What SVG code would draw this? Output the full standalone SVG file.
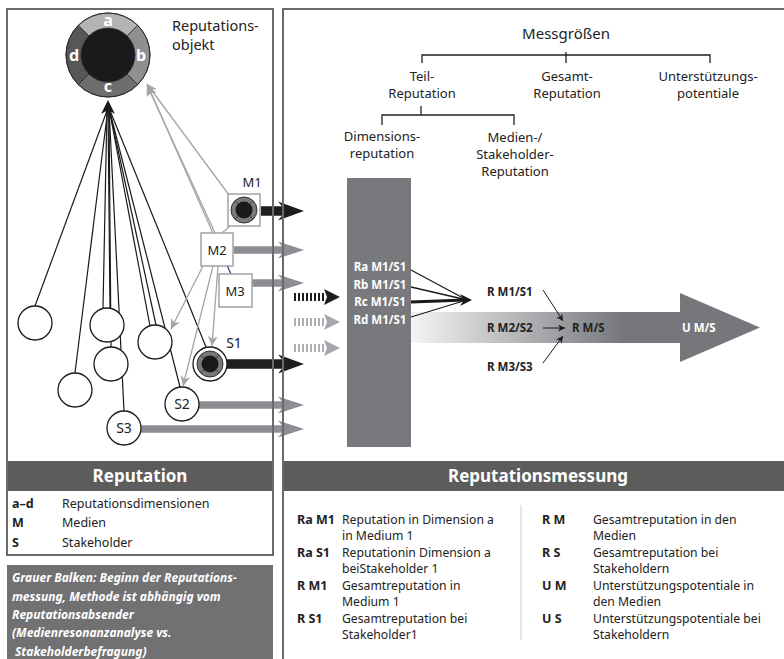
<svg xmlns="http://www.w3.org/2000/svg" width="784" height="659" viewBox="0 0 784 659">
<defs>
<style>
text{font-family:"Noto Sans","Open Sans",sans-serif;}
.lbl{font-size:13px;fill:#222;text-anchor:middle;}
.lg{font-size:12.5px;fill:#222;}
.lr{font-size:12.2px;fill:#222;}
.key{font-size:12.5px;font-weight:bold;fill:#222;}
.hdr{font-size:17px;font-weight:bold;fill:#fff;text-anchor:middle;}
.bar{font-size:11.5px;font-weight:bold;fill:#fff;text-anchor:middle;}
.rl{font-size:11.5px;font-weight:bold;fill:#222;}
.ring{font-size:16px;font-weight:bold;fill:#fff;text-anchor:middle;}
.blk{stroke:#1a1a1a;stroke-width:1.2;fill:none;}
.gl{stroke:#a3a5aa;stroke-width:1.3;fill:none;marker-end:url(#ga);}
.circ{fill:#fff;stroke:#1a1a1a;stroke-width:1.3;}
.box{fill:#fff;stroke:#a0a2a6;stroke-width:1.5;}
.garr{fill:#8c8e93;}
.barr{fill:#1e1e1e;}
.tree{stroke:#222;stroke-width:1.3;fill:none;}
.it{font-size:12px;font-weight:bold;font-style:italic;fill:#fff;}
.frame{stroke:#6a6a6a;stroke-width:2;fill:none;}
.seg{stroke:#2a2a2a;stroke-width:0.8;}
.thin{stroke:#1a1a1a;stroke-width:1;fill:none;marker-end:url(#ka);}
</style>
<marker id="ga" viewBox="0 0 10 10" refX="10" refY="5" markerWidth="10" markerHeight="10" markerUnits="userSpaceOnUse" orient="auto">
<path d="M0,0 L10,5 L0,10 L3,5 z" fill="#a3a5aa"/>
</marker>
<marker id="ka" viewBox="0 0 10 10" refX="10" refY="5" markerWidth="7" markerHeight="7" markerUnits="userSpaceOnUse" orient="auto">
<path d="M0,0 L10,5 L0,10 L3,5 z" fill="#1a1a1a"/>
</marker>
<linearGradient id="grad" x1="411" y1="0" x2="625" y2="0" gradientUnits="userSpaceOnUse">
<stop offset="0" stop-color="#f4f4f5"/>
<stop offset="1" stop-color="#76777b"/>
</linearGradient>
<g id="mini">
<circle r="13" fill="#7a7a7a" stroke="#333" stroke-width="1"/>
<path d="M-9.2,-9.2 L-6,-6 M9.2,-9.2 L6,-6 M9.2,9.2 L6,6 M-9.2,9.2 L-6,6" stroke="#333" stroke-width="0.8"/>
<circle r="8.5" fill="#1a1a1a"/>
</g>
</defs>

<rect width="784" height="659" fill="#fff"/>

<rect x="7" y="461" width="266" height="30" fill="#5c5c5c"/>
<rect x="283" y="461" width="501" height="30" fill="#5c5c5c"/>
<rect x="7" y="565" width="266" height="94" fill="#717173"/>

<g id="connectors">
<line class="blk" x1="35" y1="306" x2="108" y2="108"/>
<line class="blk" x1="75" y1="373" x2="108" y2="108"/>
<line class="blk" x1="103" y1="308" x2="107" y2="108"/>
<line class="blk" x1="110" y1="308" x2="108" y2="108"/>
<line class="blk" x1="111" y1="347" x2="109" y2="108"/>
<line class="blk" x1="124" y1="411" x2="109" y2="108"/>
<line class="blk" x1="150" y1="326" x2="109" y2="108"/>
<line class="blk" x1="156" y1="325" x2="109" y2="108"/>
<line class="blk" x1="180" y1="387" x2="109" y2="108"/>
<line class="blk" x1="206" y1="347" x2="109" y2="108"/>
<polygon points="108,100 101,114 108,110 115,114" fill="#1a1a1a"/>
<line class="gl" x1="229" y1="195" x2="147" y2="84"/>
<line class="gl" x1="215" y1="233" x2="147" y2="85"/>
<line class="gl" x1="231" y1="274" x2="148" y2="86"/>
<line x1="230" y1="226" x2="222" y2="233" stroke="#a3a5aa" stroke-width="1.3"/>
<line class="gl" x1="203" y1="266" x2="171" y2="329"/>
<line class="gl" x1="213" y1="266" x2="183" y2="386"/>
<line class="gl" x1="218" y1="266" x2="212" y2="346"/>
<polygon class="barr" points="261,206.3 282,206.3 278,201.5 304,211 278,220.5 282,215.7 261,215.7"/>
<polygon class="garr" points="234,246.2 282,246.2 278,241.5 304,250 278,258.5 282,253.8 234,253.8"/>
<polygon class="garr" points="252,279.2 282,279.2 278,274.5 304,283 278,291.5 282,286.8 252,286.8"/>
<polygon class="barr" points="226,359.3 282,359.3 278,354.5 304,364 278,373.5 282,368.7 226,368.7"/>
<polygon class="garr" points="199,401.2 282,401.2 278,396.5 304,405 278,413.5 282,408.8 199,408.8"/>
<polygon class="garr" points="141,425.2 282,425.2 278,420.5 304,429 278,437.5 282,432.8 141,432.8"/>
<line x1="294" y1="297" x2="324" y2="297" stroke="#1e1e1e" stroke-width="8" stroke-dasharray="2 2"/>
<polygon points="324,289 340,297 324,305 327,297" fill="#1e1e1e"/>
<line x1="294" y1="322" x2="324" y2="322" stroke="#aeb0b4" stroke-width="8" stroke-dasharray="2 2"/>
<polygon points="324,314 340,322 324,330 327,322" fill="#a5a7ac"/>
<line x1="294" y1="348" x2="324" y2="348" stroke="#aeb0b4" stroke-width="8" stroke-dasharray="2 2"/>
<polygon points="324,340 340,348 324,356 327,348" fill="#a5a7ac"/>
<path d="M411,312 H680 V293 L760,327.5 L680,362 V343 H411 Z" fill="url(#grad)"/>
<line x1="411" y1="270" x2="465" y2="299" stroke="#1a1a1a" stroke-width="1.3"/>
<line x1="411" y1="287" x2="465" y2="299.5" stroke="#1a1a1a" stroke-width="1.3"/>
<line x1="411" y1="302" x2="465" y2="300" stroke="#1a1a1a" stroke-width="3"/>
<line x1="411" y1="317" x2="465" y2="300.5" stroke="#1a1a1a" stroke-width="1.3"/>
<polygon points="472,300 460,294 464,300 460,306" fill="#1a1a1a"/>
<line class="thin" x1="543" y1="290" x2="563" y2="321"/>
<line class="thin" x1="543" y1="328" x2="565" y2="328"/>
<line class="thin" x1="543" y1="363" x2="563" y2="336"/>
</g>

<rect class="frame" x="7" y="9" width="266" height="546"/>
<path class="frame" d="M784,9 H283 V659"/>

<g id="objekt">
<path class="seg" fill="#b3b3b3" d="M78.3,25.3 A42,42 0 0 1 137.7,25.3 L127.09,35.91 A27,27 0 0 0 88.91,35.91 Z"/>
<path class="seg" fill="#8f8f8f" d="M137.7,25.3 A42,42 0 0 1 137.7,84.7 L127.09,74.09 A27,27 0 0 0 127.09,35.91 Z"/>
<path class="seg" fill="#6e6e6e" d="M137.7,84.7 A42,42 0 0 1 78.3,84.7 L88.91,74.09 A27,27 0 0 0 127.09,74.09 Z"/>
<path class="seg" fill="#575757" d="M78.3,84.7 A42,42 0 0 1 78.3,25.3 L88.91,35.91 A27,27 0 0 0 88.91,74.09 Z"/>
<circle cx="108" cy="55" r="42" fill="none" stroke="#2a2a2a" stroke-width="1"/>
<circle cx="108" cy="55" r="27" fill="#1a1a1a"/>
<text class="ring" x="108" y="26">a</text>
<text class="ring" x="141" y="61">b</text>
<text class="ring" x="108" y="92">c</text>
<text class="ring" x="74" y="61">d</text>
<text x="172" y="31" style="font-size:14.5px;fill:#222">Reputations-</text>
<text x="172" y="50" style="font-size:14.5px;fill:#222">objekt</text>
</g>

<g id="circle-1"><circle class="circ" cx="35" cy="323" r="17"/></g>
<g id="circle-2"><circle class="circ" cx="107" cy="325" r="17"/></g>
<g id="circle-3"><circle class="circ" cx="155" cy="342" r="17"/></g>
<g id="circle-4"><circle class="circ" cx="75" cy="390" r="17"/></g>
<g id="circle-5"><circle class="circ" cx="111" cy="364" r="17"/></g>
<g id="S2"><circle class="circ" cx="182" cy="404" r="17"/><text x="182" y="409" style="font-size:14px;fill:#222;text-anchor:middle">S2</text></g>
<g id="S3"><circle class="circ" cx="124" cy="428" r="17"/><text x="124" y="433" style="font-size:14px;fill:#222;text-anchor:middle">S3</text></g>
<g id="S1"><circle class="circ" cx="210" cy="364" r="17"/><use href="#mini" x="210" y="364"/><text x="234" y="348" style="font-size:14px;fill:#222;text-anchor:middle">S1</text></g>

<g id="M1"><rect class="box" x="228" y="194" width="32" height="32"/><use href="#mini" x="244" y="210"/><text x="252" y="187" style="font-size:13px;fill:#222;text-anchor:middle">M1</text></g>
<g id="M2"><rect class="box" x="201" y="233" width="32" height="33"/><text x="217" y="255" style="font-size:13px;fill:#222;text-anchor:middle">M2</text></g>
<line x1="227.5" y1="266.5" x2="231" y2="274" stroke="#2a3a8a" stroke-width="1"/>
<g id="M3"><rect class="box" x="219" y="274" width="33" height="33"/><text x="235" y="296" style="font-size:13px;fill:#222;text-anchor:middle">M3</text></g>

<g id="tree">
<text x="566" y="39" style="font-size:15px;fill:#222;text-anchor:middle">Messgrößen</text>
<path class="tree" d="M422,63 V55 H710 V63 M566,52 V63"/>
<text class="lbl" x="422" y="81">Teil-</text>
<text class="lbl" x="422" y="98">Reputation</text>
<text class="lbl" x="567" y="81">Gesamt-</text>
<text class="lbl" x="567" y="98">Reputation</text>
<text class="lbl" x="708" y="81">Unterstützungs-</text>
<text class="lbl" x="708" y="98">potentiale</text>
<path class="tree" d="M421,106 V115 M382,125 V115 H514 V125"/>
<text class="lbl" x="382" y="141">Dimensions-</text>
<text class="lbl" x="382" y="158">reputation</text>
<text class="lbl" x="515" y="142">Medien-/</text>
<text class="lbl" x="515" y="159">Stakeholder-</text>
<text class="lbl" x="515" y="176">Reputation</text>
</g>

<g id="bar">
<rect x="347" y="178" width="64" height="269" fill="#78797d"/>
<text class="bar" x="380" y="271">Ra M1/S1</text>
<text class="bar" x="380" y="289">Rb M1/S1</text>
<text class="bar" x="380" y="306">Rc M1/S1</text>
<text class="bar" x="380" y="324">Rd M1/S1</text>
</g>

<g id="results">
<text class="rl" x="487" y="296">R M1/S1</text>
<text class="rl" x="487" y="332">R M2/S2</text>
<text class="rl" x="487" y="371">R M3/S3</text>
<text class="rl" x="572" y="332">R M/S</text>
<text class="rl" x="682" y="332" style="fill:#fff">U M/S</text>
</g>

<line x1="273" y1="9" x2="273" y2="555" stroke="#6a6a6a" stroke-width="2"/>
<line x1="283" y1="9" x2="283" y2="659" stroke="#6a6a6a" stroke-width="2"/>

<text class="hdr" x="140" y="482">Reputation</text>
<text class="hdr" x="538" y="482">Reputationsmessung</text>

<g id="legend-left">
<text class="key" x="12" y="508">a–d</text><text class="lg" x="62" y="508">Reputationsdimensionen</text>
<text class="key" x="12" y="527">M</text><text class="lg" x="62" y="527">Medien</text>
<text class="key" x="12" y="547">S</text><text class="lg" x="62" y="547">Stakeholder</text>
</g>

<g id="note">
<text class="it" x="12" y="582">Grauer Balken: Beginn der Reputations-</text>
<text class="it" x="12" y="601">messung, Methode ist abhängig vom</text>
<text class="it" x="12" y="619">Reputationsabsender</text>
<text class="it" x="12" y="637">(Medienresonanzanalyse vs.</text>
<text class="it" x="15" y="656">Stakeholderbefragung)</text>
</g>

<g id="legend-right">
<line x1="521" y1="505" x2="521" y2="640" stroke="#cfcfcf" stroke-width="1"/>
<text class="key" x="297" y="524">Ra M1</text><text class="lr" x="342" y="524">Reputation in Dimension a</text><text class="lr" x="342" y="540">in Medium 1</text>
<text class="key" x="297" y="557">Ra S1</text><text class="lr" x="342" y="557">Reputationin Dimension a</text><text class="lr" x="342" y="573">beiStakeholder 1</text>
<text class="key" x="297" y="590">R M1</text><text class="lr" x="342" y="590">Gesamtreputation in</text><text class="lr" x="342" y="606">Medium 1</text>
<text class="key" x="297" y="623">R S1</text><text class="lr" x="342" y="623">Gesamtreputation bei</text><text class="lr" x="342" y="639">Stakeholder1</text>
<text class="key" x="542" y="524">R M</text><text class="lr" x="593" y="524">Gesamtreputation in den</text><text class="lr" x="593" y="540">Medien</text>
<text class="key" x="542" y="557">R S</text><text class="lr" x="593" y="557">Gesamtreputation bei</text><text class="lr" x="593" y="573">Stakeholdern</text>
<text class="key" x="542" y="590">U M</text><text class="lr" x="593" y="590">Unterstützungspotentiale in</text><text class="lr" x="593" y="606">den Medien</text>
<text class="key" x="542" y="623">U S</text><text class="lr" x="593" y="623">Unterstützungspotentiale bei</text><text class="lr" x="593" y="639">Stakeholdern</text>
</g>
</svg>
